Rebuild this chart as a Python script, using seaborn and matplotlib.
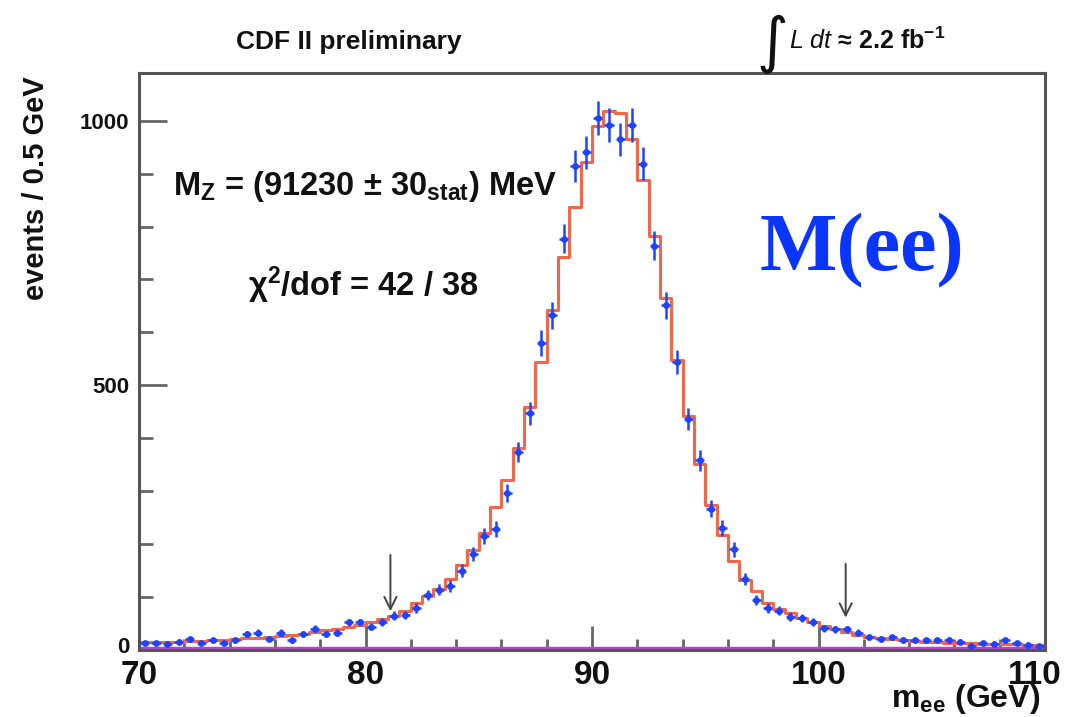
import numpy as np
import pandas as pd
import matplotlib
matplotlib.use("Agg")
import matplotlib.pyplot as plt
import matplotlib.transforms as mtransforms
from matplotlib.ticker import MultipleLocator
import seaborn as sns

# Binning: 80 bins of 0.5 GeV between 70 and 110 GeV
bin_edges = np.arange(70.0, 110.0 + 0.25, 0.5)
bin_centers = 0.5 * (bin_edges[:-1] + bin_edges[1:])

# Observed events per bin
data_counts = [
    14, 14, 11, 16, 20, 14, 18, 13, 18, 30,
    33, 21, 33, 18, 30, 40, 30, 33, 52, 52,
    44, 53, 65, 66, 79, 104, 114, 121, 150, 181,
    215, 228, 296, 374, 447, 580, 632, 777, 915, 940,
    1005, 992, 965, 992, 919, 764, 651, 544, 437, 358,
    267, 231, 190, 134, 94, 79, 74, 63, 60, 53,
    41, 39, 39, 33, 24, 21, 24, 18, 18, 18,
    19, 18, 16, 8, 14, 12, 18, 14, 9, 8,
]

# Fitted template (signal + background)
model_counts = [
    15, 15, 16, 16, 17, 17, 18, 19, 20, 22,
    23, 25, 27, 29, 31, 34, 37, 40, 44, 48,
    53, 58, 64, 74, 88, 102, 116, 135, 160, 189,
    221, 270, 321, 382, 459, 544, 642, 742, 836, 921,
    990, 1018, 1014, 965, 888, 783, 665, 548, 442, 351,
    274, 217, 168, 133, 112, 88, 78, 70, 61, 53,
    45, 39, 34, 29, 25, 22, 20, 18, 17, 16,
    15, 14, 13, 13, 12, 12, 11, 11, 10, 10,
]

# Background component
bkg_counts = [
    3, 3, 3, 3, 3, 3, 3, 3, 3, 3,
    3, 3, 3, 3, 3, 3, 3, 3, 3, 3,
    3, 3, 3, 3, 3, 3, 3, 3, 3, 3,
    3, 3, 3, 3, 3, 3, 3, 3, 3, 3,
    3, 3, 3, 3, 3, 3, 3, 3, 3, 3,
    3, 3, 3, 3, 3, 3, 3, 3, 3, 3,
    3, 3, 3, 3, 3, 3, 3, 3, 3, 3,
    3, 3, 3, 3, 3, 3, 3, 3, 3, 3,
]

# Fit window markers (GeV) and arrow extents (events)
fit_window = [81.1, 101.2]
arrow_top = [185, 168]
arrow_tip = [68, 56]

x_ticks = [70, 80, 90, 100, 110]
y_ticks = [0, 500, 1000]

hist_df = pd.DataFrame({
    "m_ee": bin_centers,
    "data": np.asarray(data_counts, dtype=float),
    "model": np.asarray(model_counts, dtype=float),
    "bkg": np.asarray(bkg_counts, dtype=float),
})

sns.set_theme(style="white")
plt.rcParams["font.family"] = ["Liberation Sans", "DejaVu Sans"]
plt.rcParams["mathtext.fontset"] = "custom"
plt.rcParams["mathtext.rm"] = "Liberation Sans:bold"
plt.rcParams["mathtext.bf"] = "Liberation Sans:bold"
plt.rcParams["mathtext.it"] = "Liberation Sans:italic"

W, H = 1066, 717
fig = plt.figure(figsize=(W / 100, H / 100), dpi=100)
ax = fig.add_axes([139 / W, 1 - 650 / H, (1045 - 139) / W, (650 - 73) / H])

red = "#f2674a"
blue = "#1f44ff"
purple = "#b04ac4"
ink = "#111111"

# background and fit templates as step histograms
sns.histplot(data=hist_df, x="m_ee", weights="bkg", binwidth=0.5, binrange=(70, 110),
             element="step", fill=False, color=purple, linewidth=2.5, ax=ax)
sns.histplot(data=hist_df, x="m_ee", weights="model", binwidth=0.5, binrange=(70, 110),
             element="step", fill=False, color=red, linewidth=2.2, ax=ax)

# data points with Poisson errors
ax.errorbar(hist_df["m_ee"], hist_df["data"], yerr=np.sqrt(hist_df["data"]), xerr=0.2,
            fmt="none", ecolor=blue, elinewidth=1.8, capsize=0, zorder=4)
sns.scatterplot(data=hist_df, x="m_ee", y="data", color=blue, s=24, linewidth=0,
                ax=ax, zorder=5)

# fit range arrows
for xv, top, tip in zip(fit_window, arrow_top, arrow_tip):
    ax.annotate("", xy=(xv, tip), xytext=(xv, top),
                arrowprops=dict(arrowstyle="->", color="#444444", lw=1.4,
                                mutation_scale=22))

ax.set_xlim(70, 110)
ax.set_ylim(0, 1090)
ax.set_xticks(x_ticks)
ax.set_yticks(y_ticks)
ax.xaxis.set_minor_locator(MultipleLocator(2))
ax.yaxis.set_minor_locator(MultipleLocator(100))
ax.tick_params(axis="both", which="both", direction="in", top=False, right=False,
               bottom=True, left=True, color="#666666", width=2)
ax.tick_params(axis="x", which="major", length=17, pad=7, labelsize=24)
ax.tick_params(axis="x", which="minor", length=8)
ax.tick_params(axis="y", which="major", length=20, pad=7, labelsize=16)
ax.tick_params(axis="y", which="minor", length=10)
for lbl in ax.get_xticklabels() + ax.get_yticklabels():
    lbl.set_fontweight("bold")
    lbl.set_color(ink)
# nudge corner labels so they stay clear of each other and of the canvas edge
last = ax.get_xticklabels()[-1]
last.set_transform(last.get_transform() +
                   mtransforms.ScaledTranslation(-10 / 100, 0, fig.dpi_scale_trans))
zero = ax.get_yticklabels()[0]
zero.set_transform(zero.get_transform() +
                   mtransforms.ScaledTranslation(0, 5 / 100, fig.dpi_scale_trans))
ax.set_xlabel("")
ax.set_ylabel("")
for sp in ax.spines.values():
    sp.set_color("#555555")
    sp.set_linewidth(2.2)
    sp.set_visible(True)
ax.grid(False)

# axis titles
fig.text(36 / W, 1 - 188 / H, "events / 0.5 GeV", rotation=90, ha="center",
         va="center", fontsize=21, fontweight="bold", color=ink)
fig.text(1040 / W, 1 - 707 / H, r"m$_{\mathbf{ee}}$ (GeV)", ha="right", va="baseline",
         fontsize=23, fontweight="bold", color=ink)

# header texts
fig.text(349 / W, 1 - 42 / H, "CDF II preliminary", ha="center", va="center",
         fontsize=19, fontweight="bold", color=ink)
fig.text(772 / W, 1 - 44 / H, "\u222b", ha="center", va="center",
         fontsize=44, color=ink, family=["DejaVu Sans"])
fig.text(789 / W, 1 - 41 / H, "$\\mathit{L\\ dt}$ \u2248 2.2 fb$^{\\mathbf{-1}}$",
         ha="left", va="center", fontsize=18, fontweight="bold", color=ink)

# fit results
fig.text(173 / W, 1 - 187 / H, "M$_{\\mathbf{Z}}$ = (91230 \u00b1 30$_{\\mathbf{stat}}$) MeV",
         ha="left", va="center", fontsize=23.5, fontweight="bold", color=ink)
fig.text(248 / W, 1 - 285 / H, "\u03c7$^{\\mathbf{2}}$/dof = 42 / 38",
         ha="left", va="center", fontsize=23.5, fontweight="bold", color=ink)

# channel label
fig.text(862 / W, 1 - 251 / H, "M(ee)", ha="center", va="center", fontsize=59,
         fontweight="bold", color="#0a35ff", family=["Liberation Serif", "DejaVu Serif"])

fig.savefig("out.png", dpi=100)
